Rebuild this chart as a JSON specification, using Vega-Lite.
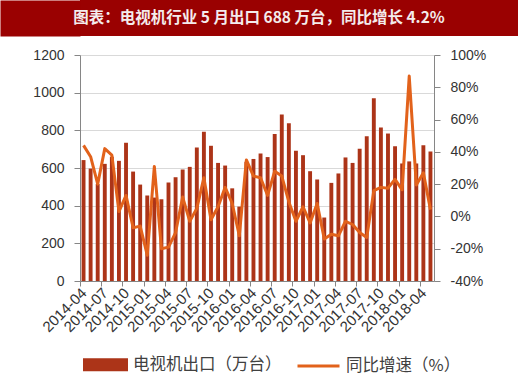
{
  "$schema": "https://vega.github.io/schema/vega-lite/v6.json",
  "padding": {"left": -18, "top": 0, "right": 0, "bottom": 0},
  "background": "white",
  "columns": 1,
  "align": "none",
  "spacing": 12,
  "config": {"view": {"stroke": null}, "font": "Liberation Sans"},
  "concat": [
    {
      "width": 438,
      "height": 36,
      "view": {"fill": "#9A0101", "stroke": null},
      "data": {"values": [{"title": "图表：电视机行业 5 月出口 688 万台，同比增长 4.2%"}]},
      "mark": {"type": "text", "color": "#F4ECEC", "font": "Noto Sans CJK SC", "fontSize": 15.5, "fontWeight": "bold", "baseline": "middle", "align": "center", "dx": -40},
      "encoding": {
        "text": {"field": "title", "type": "nominal"},
        "y": {
          "field": "title",
          "type": "nominal",
          "axis": {"title": null, "labels": false, "domain": false, "grid": false, "tickSize": 80, "tickWidth": 36, "tickColor": "#9A0101", "tickCap": "butt", "tickOpacity": 1}
        }
      }
    },
    {
      "width": 354,
      "height": 226,
      "data": {"values": [
        {"month": "2014-04", "export": 642, "yoy": 44},
        {"month": "2014-05", "export": 597, "yoy": 37},
        {"month": "2014-06", "export": 515, "yoy": 20},
        {"month": "2014-07", "export": 622, "yoy": 42},
        {"month": "2014-08", "export": 660, "yoy": 38},
        {"month": "2014-09", "export": 638, "yoy": 3},
        {"month": "2014-10", "export": 734, "yoy": 13},
        {"month": "2014-11", "export": 581, "yoy": -7},
        {"month": "2014-12", "export": 512, "yoy": -6},
        {"month": "2015-01", "export": 454, "yoy": -24},
        {"month": "2015-02", "export": 443, "yoy": 31},
        {"month": "2015-03", "export": 434, "yoy": -20},
        {"month": "2015-04", "export": 523, "yoy": -19},
        {"month": "2015-05", "export": 551, "yoy": -10},
        {"month": "2015-06", "export": 592, "yoy": 12},
        {"month": "2015-07", "export": 606, "yoy": -3},
        {"month": "2015-08", "export": 709, "yoy": 5},
        {"month": "2015-09", "export": 792, "yoy": 24},
        {"month": "2015-10", "export": 718, "yoy": -2},
        {"month": "2015-11", "export": 627, "yoy": 6},
        {"month": "2015-12", "export": 613, "yoy": 18},
        {"month": "2016-01", "export": 492, "yoy": 8},
        {"month": "2016-02", "export": 395, "yoy": -12},
        {"month": "2016-03", "export": 633, "yoy": 35},
        {"month": "2016-04", "export": 648, "yoy": 25},
        {"month": "2016-05", "export": 677, "yoy": 24},
        {"month": "2016-06", "export": 658, "yoy": 13},
        {"month": "2016-07", "export": 780, "yoy": 28},
        {"month": "2016-08", "export": 884, "yoy": 25},
        {"month": "2016-09", "export": 837, "yoy": 9},
        {"month": "2016-10", "export": 691, "yoy": -3},
        {"month": "2016-11", "export": 668, "yoy": 6},
        {"month": "2016-12", "export": 583, "yoy": -4},
        {"month": "2017-01", "export": 539, "yoy": 8},
        {"month": "2017-02", "export": 337, "yoy": -14},
        {"month": "2017-03", "export": 521, "yoy": -11},
        {"month": "2017-04", "export": 571, "yoy": -12},
        {"month": "2017-05", "export": 656, "yoy": -3},
        {"month": "2017-06", "export": 627, "yoy": -5},
        {"month": "2017-07", "export": 702, "yoy": -10},
        {"month": "2017-08", "export": 769, "yoy": -13},
        {"month": "2017-09", "export": 970, "yoy": 16},
        {"month": "2017-10", "export": 815, "yoy": 18},
        {"month": "2017-11", "export": 783, "yoy": 17.5},
        {"month": "2017-12", "export": 716, "yoy": 23},
        {"month": "2018-01", "export": 624, "yoy": 16.5},
        {"month": "2018-02", "export": 635, "yoy": 87},
        {"month": "2018-03", "export": 624, "yoy": 19.5},
        {"month": "2018-04", "export": 721, "yoy": 27},
        {"month": "2018-05", "export": 688, "yoy": 4.2}
      ]},
      "encoding": {
        "x": {
          "field": "month",
          "type": "ordinal",
          "scale": {"paddingInner": 0.45, "paddingOuter": 0.225},
          "axis": {
            "title": null,
            "values": ["2014-04", "2014-07", "2014-10", "2015-01", "2015-04", "2015-07", "2015-10", "2016-01", "2016-04", "2016-07", "2016-10", "2017-01", "2017-04", "2017-07", "2017-10", "2018-01", "2018-04"],
            "labelAngle": -45,
            "labelAlign": "right",
            "labelBaseline": "middle",
            "labelFontSize": 15,
            "labelColor": "#333333",
            "domainColor": "#868686",
            "tickColor": "#868686",
            "tickSize": 5,
            "bandPosition": 0.5,
            "tickOffset": -3.54,
            "labelOffset": 3.54,
            "labelPadding": 4
          }
        }
      },
      "layer": [
        {
          "mark": {"type": "bar"},
          "encoding": {
            "y": {
              "field": "export",
              "type": "quantitative",
              "scale": {"domain": [0, 1200]},
              "axis": {
                "title": null,
                "format": "d",
                "values": [0, 200, 400, 600, 800, 1000, 1200],
                "grid": true,
                "gridColor": "#D9D9D9",
                "domainColor": "#868686",
                "tickColor": "#868686",
                "tickSize": 6,
                "labelPadding": 10,
                "labelFontSize": 14,
                "labelColor": "#333333"
              }
            },
            "color": {
              "datum": "电视机出口（万台）",
              "scale": {"domain": ["电视机出口（万台）", "同比增速（%）"], "range": ["#AC3418", "#E2621B"]},
              "legend": {
                "orient": "none",
                "legendX": 3,
                "legendY": 342,
                "direction": "horizontal",
                "title": null,
                "labelFont": "Noto Sans CJK SC",
                "labelFontSize": 16.5,
                "labelColor": "#404040",
                "symbolSize": 1764,
                "labelOffset": 5,
                "columnPadding": 9,
                "encode": {
                  "symbols": {
                    "update": {
                      "shape": {"signal": "datum.value === '同比增速（%）' ? 'M-1,0H1' : 'M-1,-0.24H1V0.24H-1Z'"},
                      "fill": {"signal": "datum.value === '同比增速（%）' ? 'transparent' : '#AC3418'"},
                      "stroke": {"signal": "datum.value === '同比增速（%）' ? '#E2621B' : 'transparent'"},
                      "strokeWidth": {"value": 3},
                      "opacity": {"value": 1}
                    }
                  }
                }
              }
            }
          }
        },
        {
          "mark": {"type": "line", "strokeWidth": 3, "strokeJoin": "round"},
          "encoding": {
            "y": {
              "field": "yoy",
              "type": "quantitative",
              "scale": {"domain": [-40, 100]},
              "axis": {
                "orient": "right",
                "title": null,
                "values": [-40, -20, 0, 20, 40, 60, 80, 100],
                "labelExpr": "datum.value + '%'",
                "grid": false,
                "domainColor": "#868686",
                "tickColor": "#868686",
                "tickSize": 6,
                "labelPadding": 10,
                "labelFontSize": 14,
                "labelColor": "#333333"
              }
            },
            "color": {"datum": "同比增速（%）"}
          }
        }
      ],
      "resolve": {"scale": {"y": "independent"}}
    }
  ]
}
